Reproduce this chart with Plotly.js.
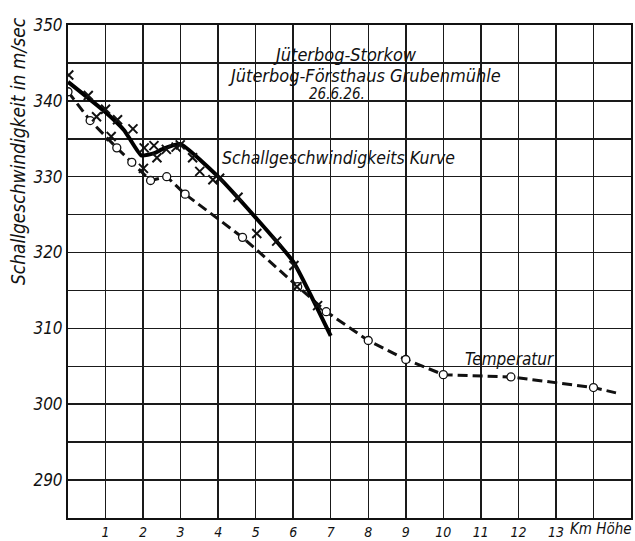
<!DOCTYPE html>
<html>
<head>
<meta charset="utf-8">
<script src="https://cdn.plot.ly/plotly-3.0.1.min.js"></script>
<style>html,body{margin:0;padding:0;background:#fff;}</style>
</head>
<body>
<div id="chart" style="width:635px;height:541px;"></div>
<script>
// Schallgeschwindigkeits Kurve (solid line)
const curveX = [0, 1.0, 1.5, 1.95, 2.3, 2.5, 3.0, 4.0, 5.0, 6.0, 7.0];
const curveY = [342.5, 338.5, 336.1, 332.8, 333.1, 333.6, 334.3, 330.0, 324.6, 318.8, 309.0];

// Measured points (crosses)
const crossX = [0.02, 0.54, 0.76, 1.0, 1.15, 1.32, 1.73, 2.03, 2.01, 2.29, 2.37, 2.62, 2.88, 2.99, 3.32, 3.51, 3.86, 4.04, 4.53, 5.03, 5.56, 6.02, 6.1, 6.65];
const crossY = [343.4, 340.7, 337.9, 338.9, 335.3, 337.5, 336.3, 333.8, 331.1, 334.1, 332.5, 333.6, 333.9, 334.2, 332.5, 330.7, 329.6, 329.8, 327.3, 322.5, 321.5, 318.3, 315.5, 313.0];

// Temperatur (dashed line, circles)
const tempX = [0, 0.59, 1.3, 1.7, 2.2, 2.63, 3.12, 4.65, 6.12, 6.88, 8.0, 9.0, 10.0, 11.8, 14.0, 14.6];
const tempY = [341.2, 337.4, 333.8, 331.9, 329.5, 330.0, 327.7, 322.0, 315.5, 312.2, 308.4, 305.9, 303.9, 303.6, 302.2, 301.5];

const xTickVals = [1,2,3,4,5,6,7,8,9,10,11,12,13];
const xTickText = ['1','2','3','4','5','6','7','8','9','10','11','12','13'];
const yTickVals = [290, 300, 310, 320, 330, 340, 350];
const yTickText = ['290', '300', '310', '320', '330', '340', '350'];

const FONT = 'DejaVu Sans Condensed, Liberation Sans Narrow, DejaVu Sans, sans-serif';
const ital = s => '<i>' + s + '</i>';

const traces = [
  {
    x: tempX, y: tempY, mode: 'lines', type: 'scatter',
    line: {color: '#111', width: 3, dash: '10px,5px'},
    hoverinfo: 'skip', showlegend: false
  },
  {
    x: tempX.slice(0, -1), y: tempY.slice(0, -1), mode: 'markers', type: 'scatter',
    marker: {symbol: 'circle', size: 8, color: '#fff', line: {color: '#111', width: 1.3}},
    showlegend: false
  },
  {
    x: curveX, y: curveY, mode: 'lines', type: 'scatter',
    line: {color: '#000', width: 4, shape: 'spline', smoothing: 0.4},
    showlegend: false
  },
  {
    x: crossX, y: crossY, mode: 'markers', type: 'scatter',
    marker: {symbol: 'x-thin', size: 9, line: {color: '#111', width: 2}},
    showlegend: false
  }
];

const layout = {
  width: 635, height: 541,
  margin: {l: 68, r: 4, t: 25, b: 23},
  paper_bgcolor: '#fff', plot_bgcolor: '#fff',
  showlegend: false,
  font: {family: FONT, size: 14, color: '#111'},
  xaxis: {
    range: [0, 15], tickvals: xTickVals, ticktext: xTickText.map(ital),
    showgrid: true, gridcolor: '#1a1a1a', gridwidth: 1.5,
    minor: {dtick: 1, tick0: 0, showgrid: true, gridcolor: '#1a1a1a', gridwidth: 1.5},
    showline: true, mirror: true, linecolor: '#111', linewidth: 2,
    zeroline: false, ticks: '', ticklen: 0, ticklabelstandoff: 0,
    tickfont: {family: FONT, size: 14, color: '#111'}
  },
  yaxis: {
    range: [285, 350], tickvals: yTickVals, ticktext: yTickText.map(ital),
    showgrid: true, gridcolor: '#1a1a1a', gridwidth: 1.5,
    minor: {dtick: 5, tick0: 285, showgrid: true, gridcolor: '#1a1a1a', gridwidth: 1.5},
    showline: true, mirror: true, linecolor: '#111', linewidth: 2,
    zeroline: false, ticks: '', ticklen: 0,
    tickfont: {family: FONT, size: 17, color: '#111'}
  },
  annotations: [
    {xref: 'paper', yref: 'paper', x: -0.089, y: 0.744, xanchor: 'center', yanchor: 'middle',
     text: ital('Schallgeschwindigkeit in m/sec'),
     textangle: -90, showarrow: false, font: {family: FONT, size: 19, color: '#111'}},
    {xref: 'x', yref: 'y', x: 7.39, y: 346.1, text: ital('Jüterbog-Storkow'), showarrow: false,
     font: {family: FONT, size: 18, color: '#111'}},
    {xref: 'x', yref: 'y', x: 7.89, y: 343.3, text: ital('Jüterbog-Försthaus Grubenmühle'), showarrow: false,
     font: {family: FONT, size: 18, color: '#111'}},
    {xref: 'x', yref: 'y', x: 7.17, y: 340.9, text: ital('26.6.26.'), showarrow: false,
     font: {family: FONT, size: 15, color: '#111'}},
    {xref: 'x', yref: 'y', x: 4.05, y: 332.4, text: ital('Schallgeschwindigkeits Kurve'), showarrow: false,
     xanchor: 'left', font: {family: FONT, size: 17.5, color: '#111'}},
    {xref: 'x', yref: 'y', x: 10.52, y: 306.0, text: ital('Temperatur'), showarrow: false,
     xanchor: 'left', font: {family: FONT, size: 17, color: '#111'}},
    {xref: 'paper', yref: 'paper', x: 1.0055, y: 0.0, xanchor: 'right', yanchor: 'top',
     text: ital('Km Höhe'), showarrow: false,
     font: {family: FONT, size: 15, color: '#111'}}
  ]
};

Plotly.newPlot('chart', traces, layout, {displayModeBar: false, staticPlot: true});
</script>
</body>
</html>
